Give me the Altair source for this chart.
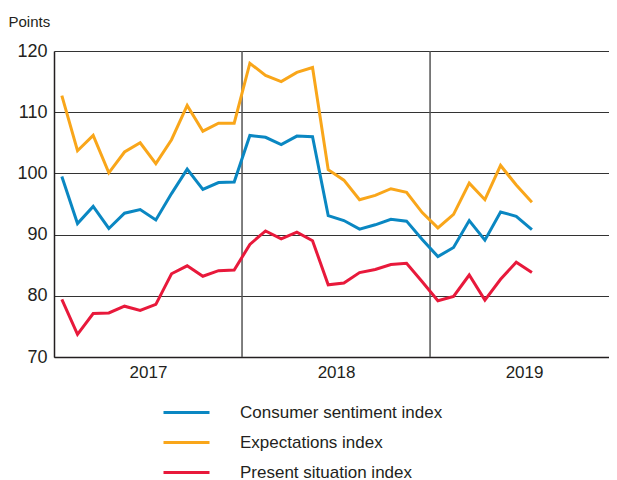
import altair as alt
import pandas as pd

# Monthly values, Jan 2017 - Jul 2019
consumer = [99.5, 91.8, 94.6, 91.0, 93.5, 94.1, 92.4, 96.7, 100.7, 97.4, 98.5, 98.6,
            106.2, 105.9, 104.7, 106.1, 106.0, 93.1, 92.3, 90.9, 91.6, 92.5, 92.2, 89.2,
            86.4, 87.9, 92.3, 89.1, 93.7, 93.0, 90.8]
expectations = [112.7, 103.7, 106.2, 100.1, 103.5, 105.0, 101.6, 105.5, 111.1, 106.9, 108.2, 108.2,
                118.0, 116.0, 115.0, 116.5, 117.3, 100.6, 98.9, 95.7, 96.4, 97.5, 96.9, 93.6,
                91.1, 93.3, 98.4, 95.7, 101.3, 98.1, 95.3]
present = [79.4, 73.7, 77.1, 77.2, 78.3, 77.6, 78.6, 83.6, 84.9, 83.2, 84.1, 84.2,
           88.4, 90.6, 89.3, 90.4, 89.0, 81.8, 82.1, 83.8, 84.3, 85.1, 85.3, 82.3,
           79.2, 79.9, 83.4, 79.3, 82.7, 85.5, 83.8]
series_names = ["Consumer sentiment index", "Expectations index", "Present situation index"]
series_colors = ["#0a87c2", "#f9a61a", "#e8193b"]
year_labels = ["2017", "2018", "2019"]
year_centers = [6, 18, 30]
year_breaks = [12, 24]
y_ticks = [70, 80, 90, 100, 110, 120]

rows = []
for name, vals in zip(series_names, [consumer, expectations, present]):
    for i, v in enumerate(vals):
        rows.append({"m": i + 0.5, "value": v, "series": name})
df = pd.DataFrame(rows)
breaks_df = pd.DataFrame({"m": year_breaks})

FONT = "Liberation Sans"

x_scale = alt.Scale(domain=[0, 35.42], nice=False, zero=False)
y_scale = alt.Scale(domain=[70, 120], nice=False, zero=False)

label_expr = "datum.value == 6 ? '2017' : datum.value == 18 ? '2018' : '2019'"

lines = alt.Chart(df).mark_line(strokeWidth=3, clip=True).encode(
    x=alt.X("m:Q", scale=x_scale,
            axis=alt.Axis(values=year_centers, labelExpr=label_expr, title=None, grid=False,
                          ticks=False, domain=True, domainColor="#231f20", domainWidth=1.5,
                          labelFont=FONT, labelFontSize=17, labelColor="#231f20",
                          labelPadding=7)),
    y=alt.Y("value:Q", scale=y_scale,
            axis=alt.Axis(values=y_ticks, title="Points", titleAngle=0, titleX=-46, titleY=-25,
                          titleAlign="left", titleBaseline="alphabetic", titleFont=FONT,
                          titleFontSize=15, titleFontWeight="normal", titleColor="#231f20",
                          grid=True, gridColor="#333333", gridWidth=1.2, ticks=False,
                          domain=True, domainColor="#231f20", domainWidth=1.5,
                          labelFont=FONT, labelFontSize=18, labelColor="#231f20",
                          labelPadding=7)),
    color=alt.Color("series:N", scale=alt.Scale(domain=series_names, range=series_colors),
                    legend=alt.Legend(title=None, orient="none", legendX=124, legendY=353,
                                      direction="vertical", symbolType="M-4.6,0H4.6",
                                      symbolStrokeWidth=3, symbolSize=100, labelOffset=45,
                                      labelFont=FONT, labelFontSize=17, labelColor="#231f20",
                                      labelLimit=400, rowPadding=12, padding=0)),
)

rules = alt.Chart(breaks_df).mark_rule(color="#555555", strokeWidth=1.5).encode(
    x=alt.X("m:Q", scale=x_scale)
)

chart = alt.layer(rules, lines).properties(
    width=555, height=306,
    autosize=alt.AutoSizeParams(type="none"),
    padding={"left": 46, "top": 43, "right": 0, "bottom": 123},
).configure_view(stroke=None).configure(background="white")

chart.save("out.html", embed_options={"renderer": "svg", "actions": False})
